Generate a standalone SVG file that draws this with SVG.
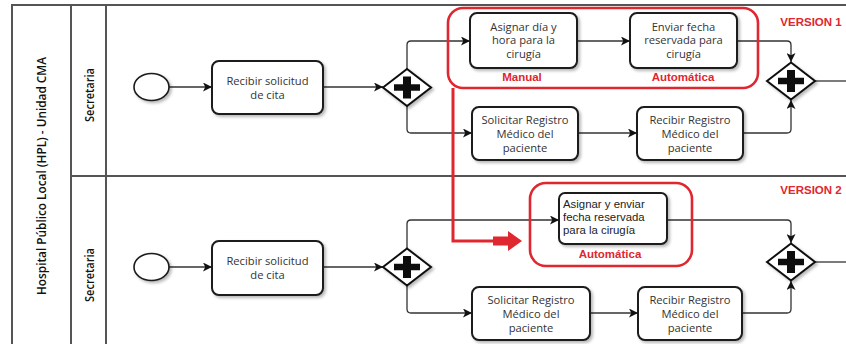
<svg xmlns="http://www.w3.org/2000/svg" width="846" height="344" viewBox="0 0 846 344">
  <defs>
    <filter id="shadow" x="-20%" y="-20%" width="150%" height="150%">
      <feDropShadow dx="2" dy="2" stdDeviation="1.6" flood-color="#000" flood-opacity="0.28"/>
    </filter>
    <marker id="arrow" viewBox="0 0 10 10" refX="10" refY="5" markerWidth="9" markerHeight="9" markerUnits="userSpaceOnUse" orient="auto">
      <path d="M0,0 L10,5 L0,10 L2.5,5 z" fill="#111"/>
    </marker>
    <!-- parallel gateway: diamond with bold plus, centred at 0,0 -->
    <g id="gw">
      <polygon points="-24,0 0,-18.5 24,0 0,18.5" fill="#fff" stroke="#111" stroke-width="2"/>
      <path d="M-4,-11 H4 V-3.2 H13 V3.2 H4 V11 H-4 V3.2 H-13 V-3.2 H-4 z" fill="#111"/>
    </g>
  </defs>
  <style>
    .pool { fill: none; stroke: #555; stroke-width: 2; }
    .task { fill: #fff; stroke: #1a1a1a; stroke-width: 2; filter: url(#shadow); }
    .evt { fill: #fff; stroke: #1a1a1a; stroke-width: 1.6; filter: url(#shadow); }
    .flow { fill: none; stroke: #333; stroke-width: 1.3; }
    .lbl { font-family: "Open Sans", "Liberation Sans", sans-serif; font-size: 11.2px; fill: #333; text-anchor: middle; }
    .lbl2 { font-family: "Liberation Sans", Arial, sans-serif; font-size: 11.4px; fill: #222; }
    .lane { font-family: "Open Sans", "Liberation Sans", sans-serif; font-weight: 600; fill: #111; text-anchor: middle; }
    .red { font-family: "Liberation Sans", Arial, sans-serif; font-weight: bold; font-size: 11.5px; fill: #e0262e; text-anchor: middle; }
    .redbox { fill: none; stroke: #e0262e; stroke-width: 2.6; }
  </style>

  <rect width="846" height="344" fill="#fff"/>

  <!-- pool and lanes -->
  <g id="pool">
    <path class="pool" d="M12,344 V5 H846 M71,5 V344 M106,5 V344 M71,176 H846"/>
    <text class="lane" font-size="13" transform="translate(46,176) rotate(-90)" textLength="238" lengthAdjust="spacingAndGlyphs">Hospital Público Local (HPL) - Unidad CMA</text>
    <text class="lane" font-size="12" transform="translate(94,95) rotate(-90)" textLength="54" lengthAdjust="spacingAndGlyphs">Secretaria</text>
    <text class="lane" font-size="12" transform="translate(94,275) rotate(-90)" textLength="54" lengthAdjust="spacingAndGlyphs">Secretaria</text>
  </g>

  <!-- connectors -->
  <g id="connectors">
    <path class="flow" marker-end="url(#arrow)" d="M169,87 H212"/>
    <path class="flow" marker-end="url(#arrow)" d="M323,87 H383"/>
    <path class="flow" marker-end="url(#arrow)" d="M407,69 V45 Q407,41 411,41 H470"/>
    <path class="flow" marker-end="url(#arrow)" d="M577,41 H630"/>
    <path class="flow" marker-end="url(#arrow)" d="M737,41 H787 Q791,41 791,45 V62"/>
    <path class="flow" marker-end="url(#arrow)" d="M407,106 V129 Q407,133 411,133 H472"/>
    <path class="flow" marker-end="url(#arrow)" d="M578,133 H637"/>
    <path class="flow" marker-end="url(#arrow)" d="M743,133 H787 Q791,133 791,129 V100"/>
    <path class="flow" d="M815,81 H846"/>

    <path class="flow" marker-end="url(#arrow)" d="M169,267 H212"/>
    <path class="flow" marker-end="url(#arrow)" d="M323,267 H383"/>
    <path class="flow" marker-end="url(#arrow)" d="M407,248 V224 Q407,220 411,220 H559"/>
    <path class="flow" marker-end="url(#arrow)" d="M667,220 H787 Q791,220 791,224 V243"/>
    <path class="flow" marker-end="url(#arrow)" d="M407,286 V309 Q407,313 411,313 H472"/>
    <path class="flow" marker-end="url(#arrow)" d="M590,313 H638"/>
    <path class="flow" marker-end="url(#arrow)" d="M742,313 H787 Q791,313 791,309 V281"/>
    <path class="flow" d="M815,262 H846"/>

    <!-- red pointer from version 1 group to version 2 task -->
    <path d="M453,88 V241 H495" fill="none" stroke="#e0262e" stroke-width="3"/>
    <polygon points="493,236.5 508,236.5 508,231 522,241 508,251 508,245.5 493,245.5" fill="#e0262e"/>
  </g>

  <!-- version 1 -->
  <g id="start1"><ellipse class="evt" cx="151.5" cy="87" rx="17.5" ry="13.5"/></g>
  <g id="recibir1">
    <rect class="task" x="212" y="61" width="111" height="53" rx="7"/>
    <text class="lbl" x="267.5" y="84.5">Recibir solicitud</text>
    <text class="lbl" x="267.5" y="98.5">de cita</text>
  </g>
  <g id="split1" filter="url(#shadow)"><use href="#gw" x="407" y="87.5"/></g>
  <g id="asignar1">
    <rect class="task" x="470" y="13" width="107" height="55" rx="7"/>
    <text class="lbl" x="523.5" y="30.5">Asignar día y</text>
    <text class="lbl" x="523.5" y="44">hora para la</text>
    <text class="lbl" x="523.5" y="57.5">cirugía</text>
  </g>
  <g id="enviar1">
    <rect class="task" x="630" y="13" width="107" height="55" rx="7"/>
    <text class="lbl" x="683.5" y="30.5">Enviar fecha</text>
    <text class="lbl" x="683.5" y="44">reservada para</text>
    <text class="lbl" x="683.5" y="57.5">cirugía</text>
  </g>
  <g id="solicitar1">
    <rect class="task" x="472" y="107" width="106" height="53" rx="7"/>
    <text class="lbl" x="525" y="123.5">Solicitar Registro</text>
    <text class="lbl" x="525" y="137.5">Médico del</text>
    <text class="lbl" x="525" y="151.5">paciente</text>
  </g>
  <g id="registro1">
    <rect class="task" x="637" y="107" width="106" height="53" rx="7"/>
    <text class="lbl" x="690" y="123.5">Recibir Registro</text>
    <text class="lbl" x="690" y="137.5">Médico del</text>
    <text class="lbl" x="690" y="151.5">paciente</text>
  </g>
  <g id="join1" filter="url(#shadow)"><use href="#gw" x="791" y="81"/></g>
  <g id="grupo1">
    <rect class="redbox" x="448" y="8" width="310" height="80" rx="15"/>
    <text class="red" x="522" y="81">Manual</text>
    <text class="red" x="683" y="81">Automática</text>
    <text class="red" x="811" y="26">VERSION 1</text>
  </g>

  <!-- version 2 -->
  <g id="start2"><ellipse class="evt" cx="151.5" cy="267" rx="17.5" ry="13.5"/></g>
  <g id="recibir2">
    <rect class="task" x="212" y="241" width="111" height="54" rx="7"/>
    <text class="lbl" x="267.5" y="264.5">Recibir solicitud</text>
    <text class="lbl" x="267.5" y="278.5">de cita</text>
  </g>
  <g id="split2" filter="url(#shadow)"><use href="#gw" x="407" y="267"/></g>
  <g id="asignar2">
    <rect class="task" x="559" y="193" width="108" height="51" rx="6"/>
    <text class="lbl2" x="563" y="208">Asignar y enviar</text>
    <text class="lbl2" x="563" y="221">fecha reservada</text>
    <text class="lbl2" x="563" y="234">para la cirugía</text>
  </g>
  <g id="solicitar2">
    <rect class="task" x="472" y="287" width="118" height="53" rx="7"/>
    <text class="lbl" x="531" y="303.5">Solicitar Registro</text>
    <text class="lbl" x="531" y="317.5">Médico del</text>
    <text class="lbl" x="531" y="331.5">paciente</text>
  </g>
  <g id="registro2">
    <rect class="task" x="638" y="287" width="104" height="53" rx="7"/>
    <text class="lbl" x="690" y="303.5">Recibir Registro</text>
    <text class="lbl" x="690" y="317.5">Médico del</text>
    <text class="lbl" x="690" y="331.5">paciente</text>
  </g>
  <g id="join2" filter="url(#shadow)"><use href="#gw" x="791" y="262"/></g>
  <g id="grupo2">
    <rect class="redbox" x="530" y="183" width="162" height="83" rx="16"/>
    <text class="red" x="610" y="258">Automática</text>
    <text class="red" x="811" y="194">VERSION 2</text>
  </g>
</svg>
